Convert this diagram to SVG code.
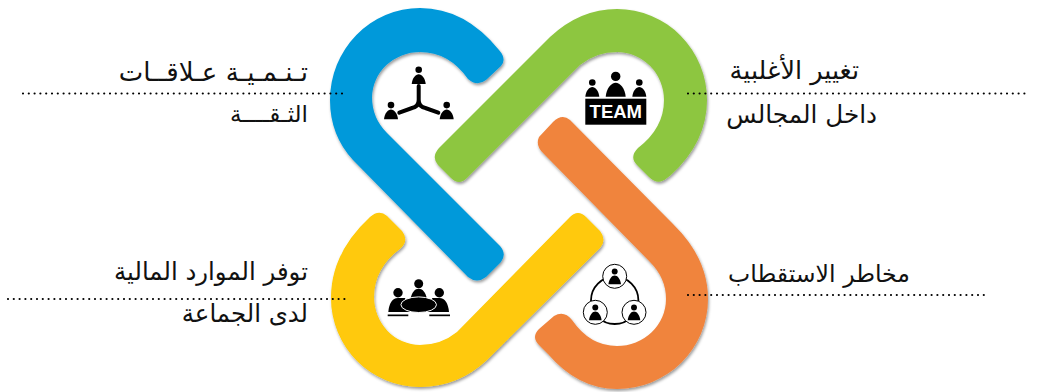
<svg xmlns="http://www.w3.org/2000/svg" width="1055" height="392" viewBox="0 0 1055 392" xmlns:xlink="http://www.w3.org/1999/xlink">
<style>
.band{filter:url(#sh)}
.lbl{font-family:"DejaVu Sans",sans-serif;font-size:24px;fill:#111;direction:rtl;text-anchor:start}
.dots{fill:none;stroke:#000;stroke-width:2.2;stroke-linecap:round;stroke-dasharray:0 5.8}
.ic{fill:#000}
.sm{fill:#fff;stroke:#000;stroke-width:1}
</style>
<defs>
<filter id="sh" x="-10%" y="-10%" width="125%" height="125%"><feDropShadow dx="1" dy="2" stdDeviation="1.6" flood-color="#000" flood-opacity=".4"/></filter>
<g id="p"><circle cy="-14.2" r="3.3"/><path d="M-7 0C-6.500-6-3-9.800 0-9.800S6.500-6 7 0Z"/></g>
</defs>
<g id="node-blue">
<path class="band" fill="#0099DA" d="M499 50Q507 59 501 66L486 80Q477 87 468 79Q449 52 420 52A48 46 0 0 0 372 97Q372 118 387 133L500 246Q507 254 501 262L486 277Q477 284 468 277L353 160Q330 135 330 100A90 92 0 0 1 420 8Q465 8 499 50Z"/>
<g class="ic"><use xlink:href="#p" href="#p" transform="translate(418.700 84)"/><use xlink:href="#p" href="#p" transform="translate(391 119.300)"/><use xlink:href="#p" href="#p" transform="translate(446.700 119.300)"/>
<path d="M418.700 86V100Q418.700 106.700 412 108L399.300 112.700M418.700 100Q418.700 106.700 425.400 108L438.300 112.700" fill="none" stroke="#000" stroke-width="4" stroke-linecap="round"/></g>
<text class="lbl" x="308" y="81" font-size="26" style="font-size:26px">تـنـمـيـة عـلاقــات</text>
<text class="lbl" x="308" y="122" style="font-size:23px">الثـقــــة</text>
</g>
<g id="node-green">
<path class="band" fill="#8DC63F" d="M550 37Q580 9 617 9A90 91 0 0 1 707 100Q707 142 671 175L667 178Q658 186 649 177L637 165Q629 157 638 148Q664 128 664 100A47 48 0 0 0 617 52Q596 52 580 65L467 178Q459 186 451 178L438 165Q431 157 439 148Z"/>
<g class="ic"><use xlink:href="#p" href="#p" transform="translate(615.700 96.700) scale(1.430)"/><use xlink:href="#p" href="#p" transform="translate(592.300 96.700)"/><use xlink:href="#p" href="#p" transform="translate(639.300 96.700)"/>
<rect x="585.300" y="98.700" width="61" height="26"/>
<text x="615.800" y="117.700" text-anchor="middle" font-family="Liberation Sans,sans-serif" font-weight="700" font-size="18.500" fill="#fff">TEAM</text></g>
<text class="lbl" x="859" y="79" style="font-size:25.500px">تغيير الأغلبية</text>
<text class="lbl" x="877" y="123" style="font-size:24.700px">داخل المجالس</text>
</g>
<g id="node-orange">
<path class="band" fill="#F0843E" d="M570 120L673 224Q708 258 708 299A91 90 0 0 1 617 389Q578 389 548 354L539 345Q531 337 539 329L554 316Q564 310 572 320Q590 346 617 346A49 47 0 0 0 666 299Q666 278 650 262L544 154Q535 146 539 137L553 122Q562 113 570 120Z"/>
<circle cx="614.700" cy="300.300" r="23.700" fill="none" stroke="#000" stroke-width="1.800"/>
<g class="ic">
<circle class="sm" cx="614.700" cy="276.300" r="12"/><circle class="sm" cx="595.300" cy="312.300" r="12"/><circle class="sm" cx="634" cy="312.300" r="12"/>
<use xlink:href="#p" href="#p" transform="translate(614.700 284.300) scale(.9)"/><use xlink:href="#p" href="#p" transform="translate(595.300 320.300) scale(.9)"/><use xlink:href="#p" href="#p" transform="translate(634 320.300) scale(.9)"/></g>
<text class="lbl" x="910" y="282" style="font-size:23.600px">مخاطر الاستقطاب</text>
</g>
<g id="node-yellow">
<path class="band" fill="#FFC907" d="M370 217Q379 209 387 216L402 231Q409 240 401 248Q374 268 374 297A46 48 0 0 0 420 345Q441 345 457 332L570 217Q578 209 586 217L600 231Q607 240 600 248L487 360Q458 387 420 387A89 89 0 0 1 331 298Q331 253 370 217Z"/>
<g class="ic">
<circle cx="418.700" cy="283.700" r="4.500"/><path d="M410.700 298C412 292 415 288.700 418.700 288.700S425.500 292 426.700 298Z"/>
<circle cx="398" cy="292.700" r="4.700"/><circle cx="439.300" cy="292.700" r="4.700"/>
<path d="M388.300 312C389 304 392 298 398 298H405L410 312Z"/><path d="M449 312C448.300 304 445.300 298 439.300 298H432.300L427.300 312Z"/>
<ellipse cx="418.700" cy="304.700" rx="17.800" ry="7.800" stroke="#fff" stroke-width="1"/>
<rect x="387.700" y="314.500" width="20.600" height="1.700"/><rect x="429.300" y="314.500" width="20.700" height="1.700"/></g>
<text class="lbl" x="308" y="280" style="font-size:24.400px">توفر الموارد المالية</text>
<text class="lbl" x="308" y="322" style="font-size:24.400px">لدى الجماعة</text>
</g>
<g id="connectors">
<path class="dots" d="M23 93.500H346"/>
<path class="dots" d="M8 299H346"/>
<path class="dots" d="M688 93.500H1027"/>
<path class="dots" d="M688 295H987"/>
</g>
</svg>
